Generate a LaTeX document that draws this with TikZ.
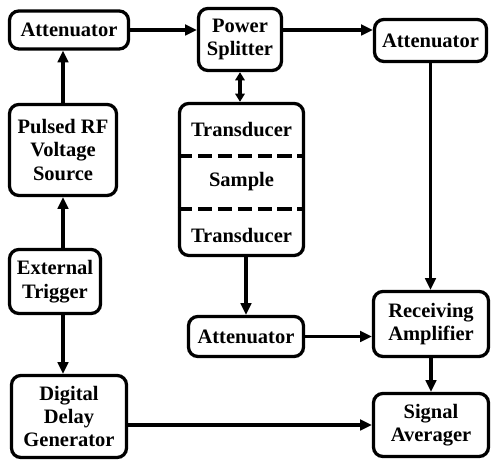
\documentclass[tikz,border=0pt]{standalone}
\usepackage{fontspec}
\setmainfont{Liberation Serif}
\usetikzlibrary{arrows.meta, positioning, calc}
\tikzset{
  blk/.style={rectangle, rounded corners=8pt, draw=black, line width=2.8pt,
              align=center, inner sep=1pt,
              font=\fontsize{17.5}{20}\selectfont\bfseries},
  lbl/.style={font=\fontsize{17.5}{20}\selectfont\bfseries},
  arr/.style={-{Triangle[length=10pt, width=9pt]}, line width=2.8pt},
  dbl/.style={{Triangle[length=7pt, width=8pt]}-{Triangle[length=7pt, width=8pt]},
              line width=2.8pt},
  sep/.style={line width=2.8pt, dash pattern=on 12pt off 5pt},
}
\begin{document}
\begin{tikzpicture}[x=0.03cm, y=-0.03cm]
  \useasboundingbox (0,0) rectangle (491,460);

  % top row
  \node[blk, minimum width=3.57cm, minimum height=1.14cm] (att1) at (69,30) {Attenuator};
  \node[blk, minimum width=2.49cm, minimum height=1.86cm] (split) at (240,39.5)
    {Power\\Splitter};
  \node[blk, minimum width=3.36cm, minimum height=1.26cm] (att2) at (430.5,40.5) {Attenuator};

  % left column
  \node[blk, minimum width=3.21cm, minimum height=2.73cm] (pulsed) at (63,150)
    {Pulsed RF\\Voltage\\Source};
  \node[blk, minimum width=2.73cm, minimum height=1.92cm] (trig) at (55,281.5)
    {External\\Trigger};
  \node[blk, minimum width=3.45cm, minimum height=2.46cm] (delay) at (69,416.5)
    {Digital\\Delay\\Generator};

  % sample cell
  \node[blk, minimum width=3.72cm, minimum height=4.56cm] (cell) at (241.5,179.5) {};
  \node[lbl] (xdcrtop) at (241.5,130) {Transducer};
  \node[lbl] (smp) at (241.5,182) {Sample};
  \node[lbl] (xdcrbot) at (241.5,236) {Transducer};
  \coordinate (sepa) at ($(xdcrtop)!0.5!(smp)$);
  \coordinate (sepb) at ($(smp)!0.5!(xdcrbot)$);
  \draw[sep] (cell.west |- sepa) -- (cell.east |- sepa);
  \draw[sep] (cell.west |- sepb) -- (cell.east |- sepb);

  % receiver side
  \node[blk, minimum width=3.45cm, minimum height=1.2cm] (att3) at (246,336.5) {Attenuator};
  \node[blk, minimum width=3.45cm, minimum height=1.95cm] (recv) at (431,324)
    {Receiving\\Amplifier};
  \node[blk, minimum width=3.45cm, minimum height=1.89cm] (avg) at (431,425)
    {Signal\\Averager};

  \draw[arr] (att1.east) -- (att1.east -| split.west);
  \draw[arr] (split.east |- att1.east) -- (att2.west |- att1.east);
  \draw[arr] (pulsed.north) -- (pulsed.north |- att1.south);
  \draw[arr] (trig.north -| pulsed) -- (pulsed.south);
  \draw[arr] (trig.south -| pulsed) -- (delay.north -| pulsed);
  \draw[dbl] (split.south) -- (split.south |- cell.north);
  \draw[arr] (cell.south -| att3) -- (att3.north);
  \draw[arr] (att2.south) -- (att2.south |- recv.north);
  \draw[arr] (att3.east) -- (att3.east -| recv.west);
  \draw[arr] (recv.south) -- (recv.south |- avg.north);
  \draw[arr] (delay.east |- avg.west) -- (avg.west);
\end{tikzpicture}
\end{document}
